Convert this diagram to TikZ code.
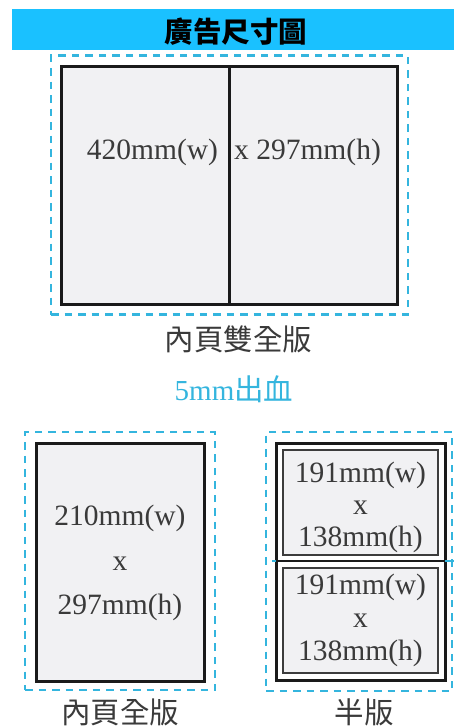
\documentclass[tikz,border=0pt]{standalone}
\usepackage{fontspec}
\setmainfont{Liberation Serif}
\newfontfamily\cjk{Noto Sans CJK TC}
\definecolor{banner}{HTML}{1AC1FF}
\definecolor{bleed}{HTML}{34B5DE}
\definecolor{paper}{HTML}{F1F1F3}
\definecolor{ink}{HTML}{1A1A1A}
\definecolor{txt}{HTML}{3A3A3A}
\tikzset{
 box/.style={rectangle,inner sep=0pt,outer sep=0pt},
 bleedbox/.style={box,draw=bleed,line width=2.6pt,dash pattern=on 7.5pt off 6pt},
 trim/.style={box,draw=ink,fill=paper,line width=3pt},
 thick trim/.style={box,draw=ink,fill=white,line width=3pt},
 safe/.style={box,draw=ink!85,fill=paper,line width=1.8pt},
 dim/.style={inner sep=0pt,text=txt,font=\fontsize{29.5}{29.5}\selectfont},
 cap label/.style={inner sep=0pt,text=txt,font=\fontsize{29.5}{29.5}\cjk\selectfont},
}
\begin{document}
\begin{tikzpicture}[x=1pt,y=-1pt]
\useasboundingbox (0,0) rectangle (454,728);
\clip (0,0) rectangle (454,728);
% banner
\node[box,fill=banner,minimum width=442pt,minimum height=41pt] (banner) at (233,29.5) {};
\node[inner sep=0pt,font=\fontsize{28.5}{28.5}\cjk\bfseries\selectfont] (title) at (236,31.5) {廣告尺寸圖};
% double page
\node[bleedbox,minimum width=357pt,minimum height=259pt] (spreadbleed) at (229.5,185) {};
\node[trim,minimum width=336pt,minimum height=238pt] (spread) at (229,185) {};
\draw[ink,line width=3pt] (spread.north) -- (spread.south);
\node[dim] (sw) at (152.5,152) {420mm(w)};
\node[dim] (sh) at (307.5,152) {x 297mm(h)};
\node[cap label] (spreadcap) at (238.5,339) {內頁雙全版};
\node[inner sep=0pt,text=bleed,font=\fontsize{29}{29}\selectfont] (bleedcap) at (234,389) {5mm{\fontsize{29.5}{29.5}\cjk\selectfont 出血}};
% full page
\node[bleedbox,minimum width=190pt,minimum height=258pt] (fullbleed) at (120,561) {};
\node[trim,minimum width=168pt,minimum height=238pt] (full) at (120,562) {};
\node[dim] (fw) at (120,518) {210mm(w)};
\node[dim] (fx) at (120,564) {x};
\node[dim] (fh) at (120,607) {297mm(h)};
\node[cap label] (fullcap) at (120,712.5) {內頁全版};
% half page
\node[bleedbox,minimum width=186pt,minimum height=259pt] (halfbleed) at (359,561.5) {};
\node[thick trim,minimum width=169pt,minimum height=237pt] (half) at (360.5,561.5) {};
\node[safe,minimum width=155pt,minimum height=105pt] (upper) at (360.5,502.5) {};
\node[safe,minimum width=155pt,minimum height=105pt] (lower) at (360.5,620.5) {};
\coordinate (midL) at (272,561);
\coordinate (midR) at (454,561);
\draw[bleed,line width=2pt] (midL) -- (midR);
\draw[ink,line width=2pt] (half.west |- midL) -- (half.east |- midL);
\node[dim] (uw) at (360.5,475) {191mm(w)};
\node[dim] (ux) at (360.5,508) {x};
\node[dim] (uh) at (360.5,539) {138mm(h)};
\node[dim] (lw) at (360.5,587) {191mm(w)};
\node[dim] (lx) at (360.5,621) {x};
\node[dim] (lh) at (360.5,653) {138mm(h)};
\node[cap label] (halfcap) at (364,712.5) {半版};
\end{tikzpicture}
\end{document}
